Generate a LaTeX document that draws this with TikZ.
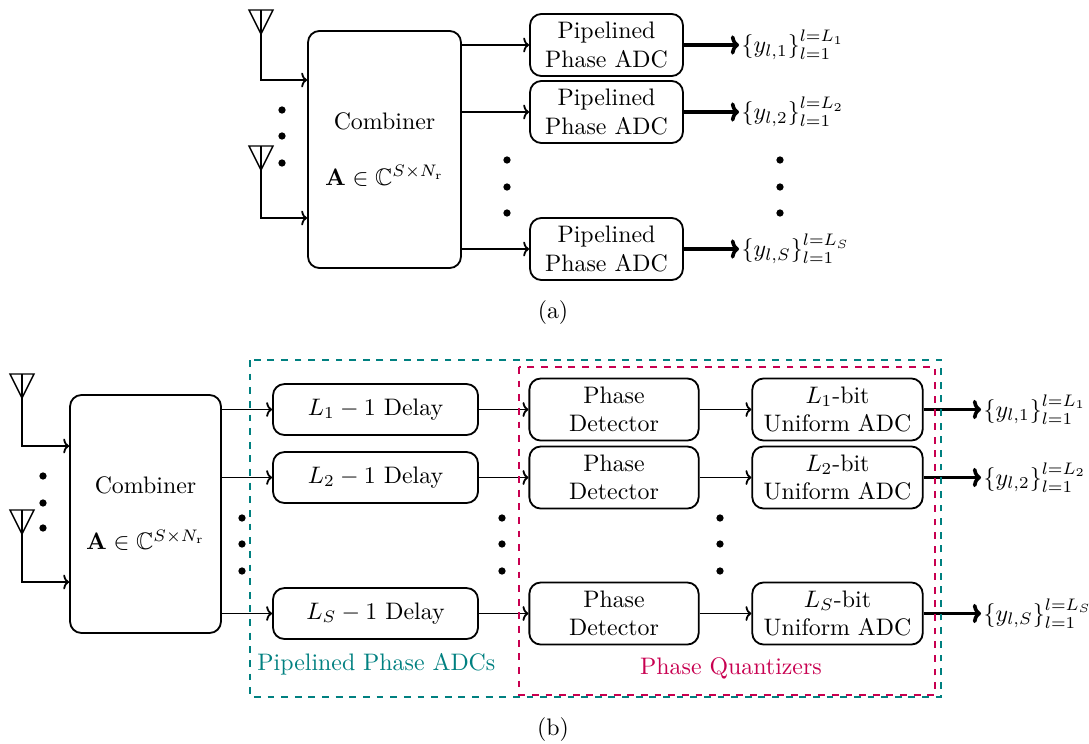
\RequirePackage{fix-cm}
\documentclass[tikz,border=0pt]{standalone}
\usepackage{amsmath}
\usepackage{amssymb}
\usepackage{tikz}
\usetikzlibrary{arrows.meta}

\definecolor{pteal}{RGB}{0,128,128}
\definecolor{pcrim}{RGB}{200,0,80}

\tikzset{
    antenna/.pic={
        \draw[semithick] (-12,0) -- (12,0) -- (0,24) -- cycle;
        \draw[semithick] (0,0) -- (0,24);
    }
}

\begin{document}
\begin{tikzpicture}[x=0.44pt, y=-0.44pt, font=\fontsize{10.5}{12.6}\selectfont,
            blk/.style={draw, thick, rounded corners=5pt, align=center, inner sep=1pt},
            conn/.style={-{To[length=2.6pt, width=6.5pt]}, thick},
            outarr/.style={-{To[length=3.6pt, width=8.5pt]}, line width=1.6pt},
            dotc/.style={circle, fill, inner sep=0pt, minimum size=3.2pt},
            ylab/.style={right, inner sep=1pt}]
            \useasboundingbox (0,0) rectangle (1089,743);

            % (a)
            \pic at (261,10) {antenna};
            \pic at (261,146) {antenna};
            \coordinate (ta1) at (261,34);
            \coordinate (ta2) at (261,170);
            \node[blk, minimum width=67.3pt, minimum height=104.3pt] (comba) at (384.5,149.5)
                {Combiner\\[12pt]$\mathbf{A}\in\mathbb{C}^{S\times N_{\mathrm{r}}}$};
            \draw[conn] (ta1) |- (comba.west |- 0,80);
            \draw[conn] (ta2) |- (comba.west |- 0,218);
            \foreach \y in {110,136,163} \node[dotc] at (282,\y) {};

            \node[blk, minimum width=67.3pt, minimum height=27.3pt] (pa1) at (606.5,45) {Pipelined\\Phase ADC};
            \node[blk, minimum width=67.3pt, minimum height=27.3pt] (pa2) at (606.5,112) {Pipelined\\Phase ADC};
            \node[blk, minimum width=67.3pt, minimum height=27.3pt] (pa3) at (606.5,249) {Pipelined\\Phase ADC};
            \foreach \n in {pa1,pa2,pa3} \draw[conn] (comba.east |- \n.west) -- (\n.west);
            \foreach \y in {160,187,213} \node[dotc] at (507,\y) {};

            \node[ylab] (ya1) at (739,45) {$\{y_{l,1}\}_{l=1}^{l=L_1}$};
            \node[ylab] (ya2) at (739,112) {$\{y_{l,2}\}_{l=1}^{l=L_2}$};
            \node[ylab] (ya3) at (739,249) {$\{y_{l,S}\}_{l=1}^{l=L_S}$};
            \draw[outarr] (pa1.east) -- (ya1.west);
            \draw[outarr] (pa2.east) -- (ya2.west);
            \draw[outarr] (pa3.east) -- (ya3.west);
            \foreach \y in {160,187,213} \node[dotc] at (780,\y) {};

            \node (capa) at (553,313) {(a)};

            % (b)
            \pic at (22,374) {antenna};
            \pic at (22,510) {antenna};
            \coordinate (tb1) at (22,398);
            \coordinate (tb2) at (22,534);
            \node[blk, minimum width=66.4pt, minimum height=104.7pt] (combb) at (145.5,514)
                {Combiner\\[12pt]$\mathbf{A}\in\mathbb{C}^{S\times N_{\mathrm{r}}}$};
            \draw[conn] (tb1) |- (combb.west |- 0,446);
            \draw[conn] (tb2) |- (combb.west |- 0,582);
            \foreach \y in {476,503,528} \node[dotc] at (43,\y) {};

            \node[blk, minimum width=90.2pt, minimum height=22.4pt] (dl1) at (375.5,409.5) {$L_1-1$ Delay};
            \node[blk, minimum width=90.2pt, minimum height=22.4pt] (dl2) at (375.5,477.5) {$L_2-1$ Delay};
            \node[blk, minimum width=90.2pt, minimum height=22.4pt] (dl3) at (375.5,613.5) {$L_S-1$ Delay};

            \node[blk, minimum width=74.5pt, minimum height=27.3pt] (pd1) at (614,409.5) {Phase\\Detector};
            \node[blk, minimum width=74.5pt, minimum height=27.3pt] (pd2) at (614,477.5) {Phase\\Detector};
            \node[blk, minimum width=74.5pt, minimum height=27.3pt] (pd3) at (614,613.5) {Phase\\Detector};

            \node[blk, minimum width=75pt, minimum height=27.3pt] (uq1) at (837.5,409.5) {$L_1$-bit\\Uniform ADC};
            \node[blk, minimum width=75pt, minimum height=27.3pt] (uq2) at (837.5,477.5) {$L_2$-bit\\Uniform ADC};
            \node[blk, minimum width=75pt, minimum height=27.3pt] (uq3) at (837.5,613.5) {$L_S$-bit\\Uniform ADC};

            \foreach \i in {1,2,3} {
                \draw[conn] (combb.east |- dl\i.west) -- (dl\i.west);
                \draw[conn] (dl\i.east) -- (pd\i.west);
                \draw[conn] (pd\i.east) -- (uq\i.west);
            }
            \foreach \x in {242,502,720}
                \foreach \y in {518,544,571} \node[dotc] at (\x,\y) {};

            \node[ylab] (yb1) at (981,409.5) {$\{y_{l,1}\}_{l=1}^{l=L_1}$};
            \node[ylab] (yb2) at (981,477.5) {$\{y_{l,2}\}_{l=1}^{l=L_2}$};
            \node[ylab] (yb3) at (981,613.5) {$\{y_{l,S}\}_{l=1}^{l=L_S}$};
            \draw[outarr] (uq1.east) -- (yb1.west);
            \draw[outarr] (uq2.east) -- (yb2.west);
            \draw[outarr] (uq3.east) -- (yb3.west);

            % groups
            \draw[pteal, dashed, thick] (250,360) rectangle (941,697);
            \draw[pcrim, dashed, thick] (519,367) rectangle (935,695);
            \node[pteal, anchor=west, inner sep=0pt] (grpa) at (257,664) {Pipelined Phase ADCs};
            \node[pcrim] (grpq) at (731,668) {Phase Quantizers};

            \node (capb) at (553,730) {(b)};
        \end{tikzpicture}
\end{document}
